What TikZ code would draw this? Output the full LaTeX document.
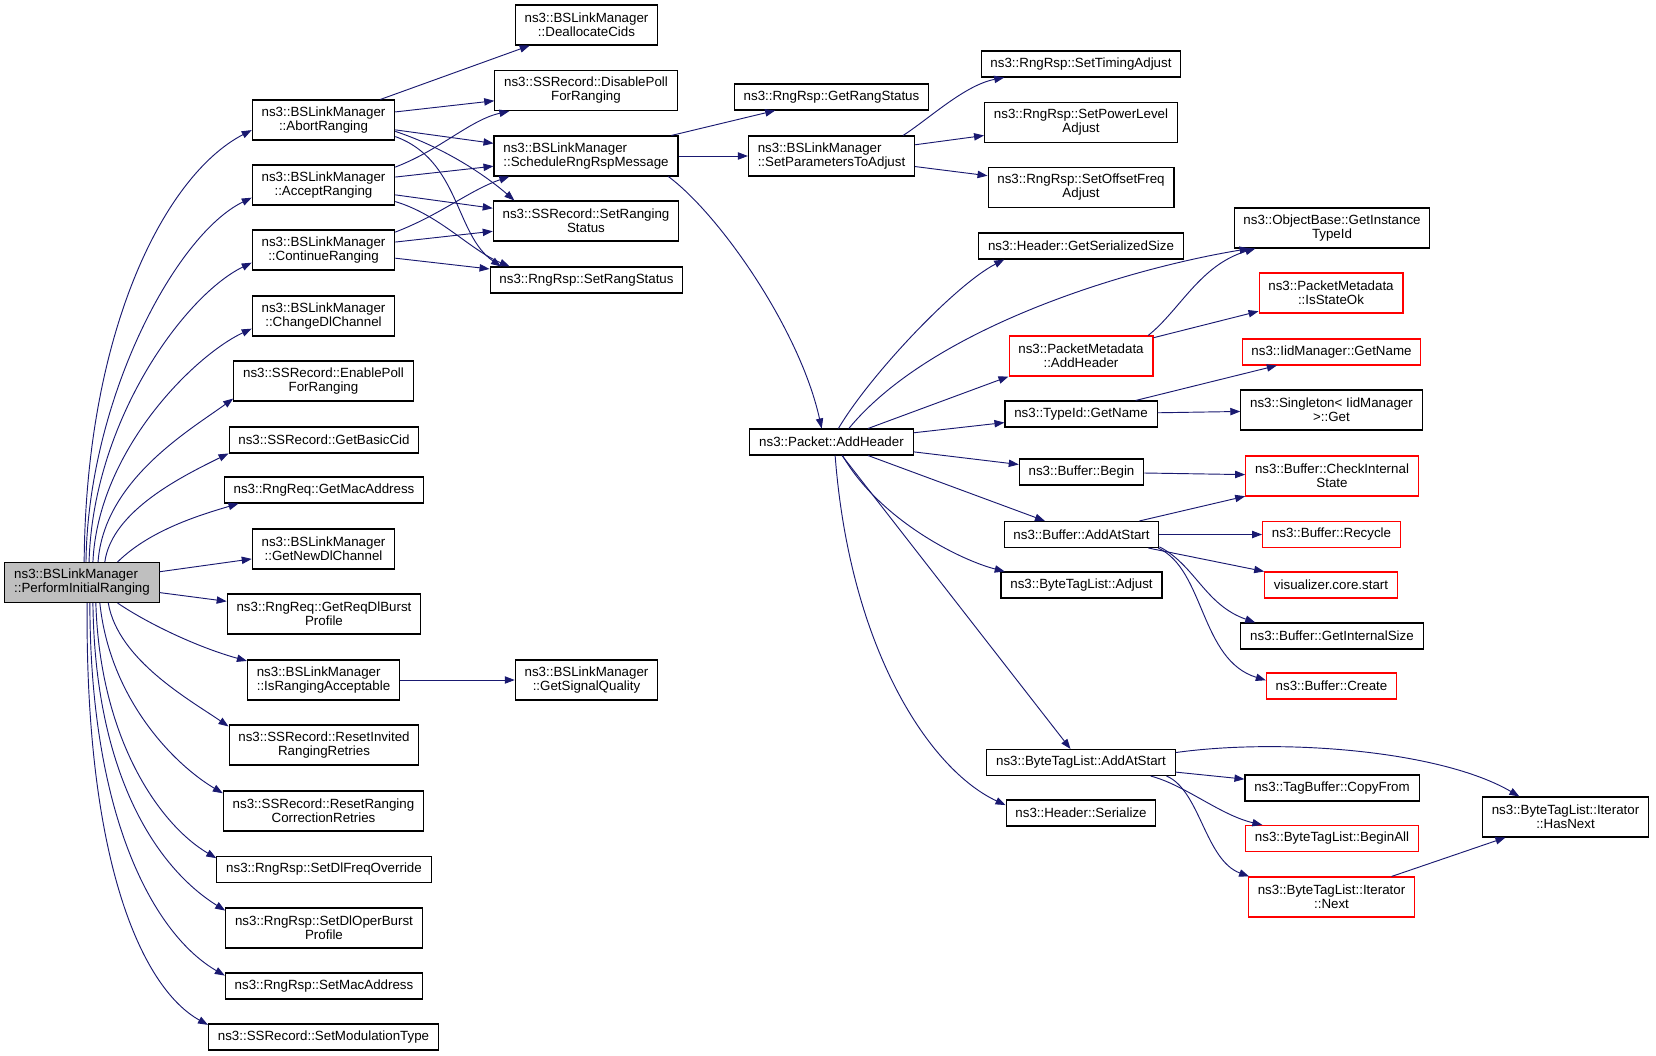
\documentclass[tikz,border=0pt]{standalone}
\usepackage{fontspec}
\setmainfont{Liberation Sans}
\usetikzlibrary{arrows.meta}
\definecolor{callblue}{HTML}{191970}
\definecolor{rootgray}{HTML}{BFBFBF}

\begin{document}
\begin{tikzpicture}[x=0.75pt,y=-0.75pt,
		fn/.style={draw=black,line width=0.8pt,font=\fontsize{10}{10.5}\selectfont,align=center,
			inner xsep=7pt,inner ysep=1pt,minimum height=19.5pt},
		two/.style={minimum height=30pt},
		lft/.style={align=left},
		trunc/.style={draw=red},
		cur/.style={fill=rootgray},
		call/.style={draw=callblue,line width=0.7pt,-{Triangle[length=7.5pt,width=5.5pt]}}]
			\useasboundingbox (0,0) rectangle (1656,1056);
			%% caller
			\node[fn,two,cur,lft] (a) at (82,582.5) {ns3::BSLinkManager\\::PerformInitialRanging};
			%% first level
			\node[fn,two] (b1) at (323.5,120) {ns3::BSLinkManager\\::AbortRanging};
			\node[fn,two] (b2) at (323.5,185) {ns3::BSLinkManager\\::AcceptRanging};
			\node[fn,two] (b3) at (323.5,250) {ns3::BSLinkManager\\::ContinueRanging};
			\node[fn,two] (b4) at (323.5,316) {ns3::BSLinkManager\\::ChangeDlChannel};
			\node[fn,two] (b5) at (323.5,381) {ns3::SSRecord::EnablePoll\\ForRanging};
			\node[fn] (b6) at (324,440) {ns3::SSRecord::GetBasicCid};
			\node[fn] (b7) at (324,490) {ns3::RngReq::GetMacAddress};
			\node[fn,two] (b8) at (323.5,549) {ns3::BSLinkManager\\::GetNewDlChannel};
			\node[fn,two] (b9) at (324,614) {ns3::RngReq::GetReqDlBurst\\Profile};
			\node[fn,two,lft] (b10) at (323.5,680) {ns3::BSLinkManager\\::IsRangingAcceptable};
			\node[fn,two] (b11) at (324,745) {ns3::SSRecord::ResetInvited\\RangingRetries};
			\node[fn,two] (b12) at (323.5,811) {ns3::SSRecord::ResetRanging\\CorrectionRetries};
			\node[fn] (b13) at (324,869.5) {ns3::RngRsp::SetDlFreqOverride};
			\node[fn,two] (b14) at (324,928) {ns3::RngRsp::SetDlOperBurst\\Profile};
			\node[fn] (b15) at (324,986) {ns3::RngRsp::SetMacAddress};
			\node[fn] (b16) at (323.5,1037) {ns3::SSRecord::SetModulationType};
			%% second level
			\node[fn,two] (c1) at (586.5,25) {ns3::BSLinkManager\\::DeallocateCids};
			\node[fn,two] (c2) at (586,90.5) {ns3::SSRecord::DisablePoll\\ForRanging};
			\node[fn,two,lft] (c3) at (586,156) {ns3::BSLinkManager\\::ScheduleRngRspMessage};
			\node[fn,two] (c4) at (586,221) {ns3::SSRecord::SetRanging\\Status};
			\node[fn] (c5) at (586.5,280) {ns3::RngRsp::SetRangStatus};
			\node[fn,two] (c6) at (586.5,680) {ns3::BSLinkManager\\::GetSignalQuality};
			%% third level
			\node[fn] (d1) at (831.5,97) {ns3::RngRsp::GetRangStatus};
			\node[fn,two,lft] (d2) at (831.5,156) {ns3::BSLinkManager\\::SetParametersToAdjust};
			\node[fn] (d3) at (831.5,442) {ns3::Packet::AddHeader};
			%% fourth level
			\node[fn] (e1) at (1081,64) {ns3::RngRsp::SetTimingAdjust};
			\node[fn,two] (e2) at (1081,122.5) {ns3::RngRsp::SetPowerLevel\\Adjust};
			\node[fn,two] (e3) at (1081,187.5) {ns3::RngRsp::SetOffsetFreq\\Adjust};
			\node[fn] (e4) at (1081,246) {ns3::Header::GetSerializedSize};
			\node[fn,two,trunc] (e5) at (1081,356) {ns3::PacketMetadata\\::AddHeader};
			\node[fn] (e6) at (1081,414) {ns3::TypeId::GetName};
			\node[fn] (e7) at (1081.5,472) {ns3::Buffer::Begin};
			\node[fn] (e8) at (1081.5,534.5) {ns3::Buffer::AddAtStart};
			\node[fn] (e9) at (1081.5,585) {ns3::ByteTagList::Adjust};
			\node[fn] (e10) at (1081,762.5) {ns3::ByteTagList::AddAtStart};
			\node[fn] (e11) at (1081,813) {ns3::Header::Serialize};
			%% fifth level
			\node[fn,two] (f1) at (1332,228) {ns3::ObjectBase::GetInstance\\TypeId};
			\node[fn,two,trunc] (f2) at (1331,293) {ns3::PacketMetadata\\::IsStateOk};
			\node[fn,trunc] (f3) at (1331.5,352) {ns3::IidManager::GetName};
			\node[fn,two] (f4) at (1331.5,410) {ns3::Singleton< IidManager\\ >::Get};
			\node[fn,two,trunc] (f5) at (1332,476) {ns3::Buffer::CheckInternal\\State};
			\node[fn,trunc] (f6) at (1331.5,534.5) {ns3::Buffer::Recycle};
			\node[fn,trunc] (f7) at (1331,585) {visualizer.core.start};
			\node[fn] (f8) at (1332,636) {ns3::Buffer::GetInternalSize};
			\node[fn,trunc] (f9) at (1331.5,686) {ns3::Buffer::Create};
			\node[fn] (f10) at (1332,788) {ns3::TagBuffer::CopyFrom};
			\node[fn,trunc] (f11) at (1332,838.5) {ns3::ByteTagList::BeginAll};
			\node[fn,two,trunc] (f12) at (1331.5,897) {ns3::ByteTagList::Iterator\\::Next};
			\node[fn,two] (g1) at (1565.5,817) {ns3::ByteTagList::Iterator\\::HasNext};
			% calls from the caller
			\draw[call] (a.84) .. controls (86,330) and (165,175) .. (b1.188);
			\draw[call] (a.79) .. controls (88,400) and (175,235) .. (b2.190);
			\draw[call] (a.71) .. controls (93,420) and (185,295) .. (b3.190);
			\draw[call] (a.62) .. controls (98,450) and (195,355) .. (b4.190);
			\draw[call] (a.52) .. controls (104,480) and (190,430) .. (b5.191);
			\draw[call] (a.42) .. controls (112,510) and (185,475) .. (b6.188);
			\draw[call] (a.30) .. controls (150,530) and (200,515) .. (b7.189);
			\draw[call] (a) -- (b8);
			\draw[call] (a) -- (b9);
			\draw[call] (a.-30) .. controls (150,625) and (200,648) .. (b10.166);
			\draw[call] (a.-38) .. controls (118,660) and (190,700) .. (b11.169);
			\draw[call] (a.-49) .. controls (110,700) and (175,765) .. (b12.170);
			\draw[call] (a.-56) .. controls (100,740) and (160,825) .. (b13.174);
			\draw[call] (a.-62) .. controls (95,780) and (160,870) .. (b14.170);
			\draw[call] (a.-69) .. controls (90,820) and (155,935) .. (b15.174);
			\draw[call] (a.-76) .. controls (85,870) and (145,990) .. (b16.174);
			% calls of the first level
			\draw[call] (b1) -- (c1);
			\draw[call] (b1) -- (c2);
			\draw[call] (b1) -- (c3);
			\draw[call] (b1.-9) .. controls (445,148) and (485,175) .. (c4.164);
			\draw[call] (b1.-13) .. controls (460,160) and (455,235) .. (c5.171);
			\draw[call] (b2.14) .. controls (440,150) and (470,120) .. (c2.195);
			\draw[call] (b2) -- (c3);
			\draw[call] (b2) -- (c4);
			\draw[call] (b2.-13) .. controls (440,215) and (470,250) .. (c5.170);
			\draw[call] (b3.14) .. controls (440,215) and (470,190) .. (c3.195);
			\draw[call] (b3) -- (c4);
			\draw[call] (b3) -- (c5);
			\draw[call] (b10) -- (c6);
			% calls of the second and third level
			\draw[call] (c3) -- (d1);
			\draw[call] (c3) -- (d2);
			\draw[call] (c3.-14) .. controls (720,215) and (800,330) .. (d3.126);
			\draw[call] (d2.16) .. controls (930,118) and (965,85) .. (e1.190);
			\draw[call] (d2) -- (e2);
			\draw[call] (d2) -- (e3);
			\draw[call] (d3.63) .. controls (870,375) and (955,285) .. (e4.190);
			\draw[call] (d3.38) .. controls (930,330) and (1120,270) .. (f1.194);
			\draw[call] (d3) -- (e5.south west);
			\draw[call] (d3) -- (e6);
			\draw[call] (d3) -- (e7);
			\draw[call] (d3) -- (e8);
			\draw[call] (d3.-51) .. controls (880,520) and (960,560) .. (e9.170);
			\draw[call] (d3) -- (e10);
			\draw[call] (d3.-75) .. controls (850,650) and (930,770) .. (e11.174);
			% calls of the fourth level
			\draw[call] (e5.17) .. controls (1180,310) and (1200,265) .. (f1.195);
			\draw[call] (e5) -- (f2);
			\draw[call] (e6) -- (f3);
			\draw[call] (e6) -- (f4);
			\draw[call] (e7) -- (f5);
			\draw[call] (e8) -- (f5);
			\draw[call] (e8) -- (f6);
			\draw[call] (e8) -- (f7);
			\draw[call] (e8.-9) .. controls (1195,565) and (1205,605) .. (f8.170);
			\draw[call] (e8.-10) .. controls (1205,570) and (1200,660) .. (f9.175);
			\draw[call] (e10.6) .. controls (1280,738) and (1440,750) .. (g1.156);
			\draw[call] (e10) -- (f10);
			\draw[call] (e10.-11) .. controls (1185,785) and (1220,815) .. (f11.169);
			\draw[call] (e10.-9) .. controls (1200,790) and (1205,860) .. (f12.166);
			\draw[call] (f12) -- (g1);
\end{tikzpicture}
\end{document}
